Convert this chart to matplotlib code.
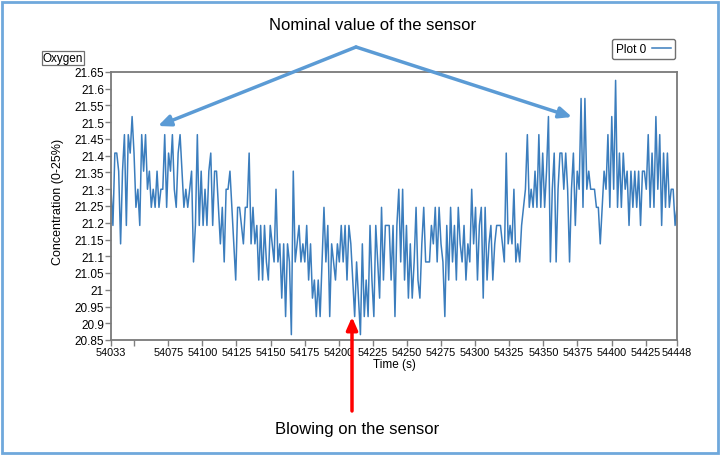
"""Oxygen sensor trace - nominal value vs blowing on the sensor."""
import numpy as np
import matplotlib
matplotlib.use("Agg")
import matplotlib.pyplot as plt
from matplotlib.patches import Rectangle, FancyArrowPatch

plt.rcParams["font.family"] = ["Liberation Sans", "DejaVu Sans"]

# quantised sensor levels (%), reading index k -> LEVELS[k]
LEVELS = [20.866, 20.920, 20.975, 21.029, 21.083, 21.137, 21.192, 21.246,
          21.300, 21.354, 21.408, 21.463, 21.517, 21.571, 21.625]

# level index of each sample (in 25 s chunks)
k_seq = [
    8, 6, 10, 10, 9, 5, 9, 11, 6, 11, 10, 12, 10, 7, 8, 6, 11, 9, 11, 8,
    9, 7, 8, 7, 9, 7, 8, 8, 11, 7, 10, 9, 11, 8, 7, 10, 11, 9, 7, 8, 7,
    8, 9, 4, 6, 11, 6, 9, 6, 8, 6, 9, 10, 6, 9, 9, 7, 5, 7, 4, 8,
    8, 9, 7, 5, 3, 7, 7, 6, 5, 7, 7, 10, 5, 7, 5, 6, 3, 6,
    3, 6, 4, 3, 6, 5, 4, 8, 4, 5, 2, 5, 1, 5, 4, 0, 9, 4, 5,
    6, 4, 5, 4, 6, 3, 5, 2, 3, 1, 3, 1, 4, 7, 4, 6, 1, 5, 4,
    3, 5, 4, 6, 4, 6, 3, 6, 5, 3, 1, 4, 2, 0, 5, 1, 3, 1, 6, 3, 1,
    6, 4, 2, 7, 3, 6, 6, 6, 3, 6, 1, 6, 8, 4, 8, 3, 6, 2, 5, 2,
    4, 7, 3, 2, 5, 7, 4, 4, 4, 6, 5, 7, 4, 7, 5,
    4, 1, 6, 3, 7, 4, 6, 3, 7, 5, 4, 6, 3, 5,
    4, 8, 5, 7, 3, 6, 7, 2, 7, 3, 5, 6, 3, 5, 6,
    6, 6, 5, 4, 10, 5, 6, 5, 8, 4, 5, 4, 6, 7, 8, 11,
    7, 8, 7, 9, 7, 11, 7, 10, 7, 9, 12, 4, 8, 10, 4, 8, 10,
    10, 8, 10, 8, 4, 8, 10, 6, 9, 8, 13, 7, 13, 8, 9, 8, 8,
    8, 7, 7, 5, 7, 9, 8, 11, 7, 12, 8, 14, 7, 10, 7, 10, 8, 9, 6,
    9, 7, 9, 7, 9, 6, 9, 9, 8, 11, 7, 10, 7, 12,
    8, 11, 6, 10, 7, 10, 7, 8, 8, 6, 7,
]
t_start, t_end = 54033, 54448

conc = np.array([LEVELS[k] for k in k_seq])
time = np.linspace(t_start, t_end, len(conc))

yticks = [20.85, 20.9, 20.95, 21, 21.05, 21.1, 21.15, 21.2, 21.25, 21.3,
          21.35, 21.4, 21.45, 21.5, 21.55, 21.6, 21.65]
ytick_labels = ["20.85", "20.9", "20.95", "21", "21.05", "21.1", "21.15", "21.2",
                "21.25", "21.3", "21.35", "21.4", "21.45", "21.5", "21.55", "21.6", "21.65"]
xticks = [54033, 54050, 54075, 54100, 54125, 54150, 54175, 54200, 54225, 54250,
          54275, 54300, 54325, 54350, 54375, 54400, 54425, 54448]
xtick_labels = ["54033", ""] + [str(v) for v in xticks[2:]]

W, H = 721, 456
fig = plt.figure(figsize=(W / 100, H / 100), dpi=100)
ax = fig.add_axes([111 / W, 1 - 341 / H, 566 / W, 268 / H])

ax.plot(time, conc, color="#3b7dbd", linewidth=1.1)
ax.set_xlim(t_start, t_end)
ax.set_ylim(20.85, 21.65)
ax.set_yticks(yticks)
ax.set_yticklabels(ytick_labels)
ax.set_xticks(xticks)
ax.set_xticklabels(xtick_labels)
ax.tick_params(axis="both", direction="out", length=4, width=1, color="#808080",
               labelsize=8.5, pad=1)
ax.tick_params(axis="x", labelsize=7.8)
for s in ax.spines.values():
    s.set_color("#7a7a7a")
    s.set_linewidth(1.3)
ax.set_xlabel("Time (s)", fontsize=8.5, labelpad=1)
ax.set_ylabel("Concentration (0-25%)", fontsize=9, labelpad=2)
ax.yaxis.set_label_coords(-47 / 566, 0.52)

# legend box (LabVIEW style)
ax.legend([ax.lines[0]], ["Plot 0"], loc="lower left",
          bbox_to_anchor=(606 / W, 1 - 66 / H), bbox_transform=fig.transFigure,
          markerfirst=False, fontsize=8.5, fancybox=True, edgecolor="#707070",
          framealpha=1, handlelength=1.6, borderpad=0.35, handletextpad=0.5)

# "Oxygen" caption box
fig.text(63 / W, 1 - 59 / H, "Oxygen", fontsize=8.5, ha="center", va="center",
         bbox=dict(boxstyle="square,pad=0.05", fc="white", ec="#707070", lw=0.9))

# annotations
fig.text(373 / W, 1 - 25 / H, "Nominal value of the sensor", fontsize=12,
         ha="center", va="center")
fig.text(357 / W, 1 - 430 / H, "Blowing on the sensor", fontsize=12,
         ha="center", va="center")

head = "-|>,head_length=5,head_width=2.2"
apex = (356 / W, 1 - 48 / H)
blue = "#5b9bd5"
for tip in [(158 / W, 1 - 127 / H), (572 / W, 1 - 118 / H)]:
    fig.patches.append(FancyArrowPatch(
        apex, tip, transform=fig.transFigure, arrowstyle=head,
        color=blue, linewidth=2.5, mutation_scale=1.5, shrinkA=0, shrinkB=0))
fig.patches.append(FancyArrowPatch(
    (352 / W, 1 - 412 / H), (352 / W, 1 - 318 / H), transform=fig.transFigure,
    arrowstyle=head, color="#ff0000", linewidth=2.5,
    mutation_scale=1.5, shrinkA=0, shrinkB=0))

# light blue frame around the whole picture
fig.patches.append(Rectangle((2 / W, 2 / H), 716 / W, 451 / H, transform=fig.transFigure,
                             fill=False, edgecolor="#6fa8dc", linewidth=2))

fig.savefig("out.png", dpi=100)
plt.close("all")
